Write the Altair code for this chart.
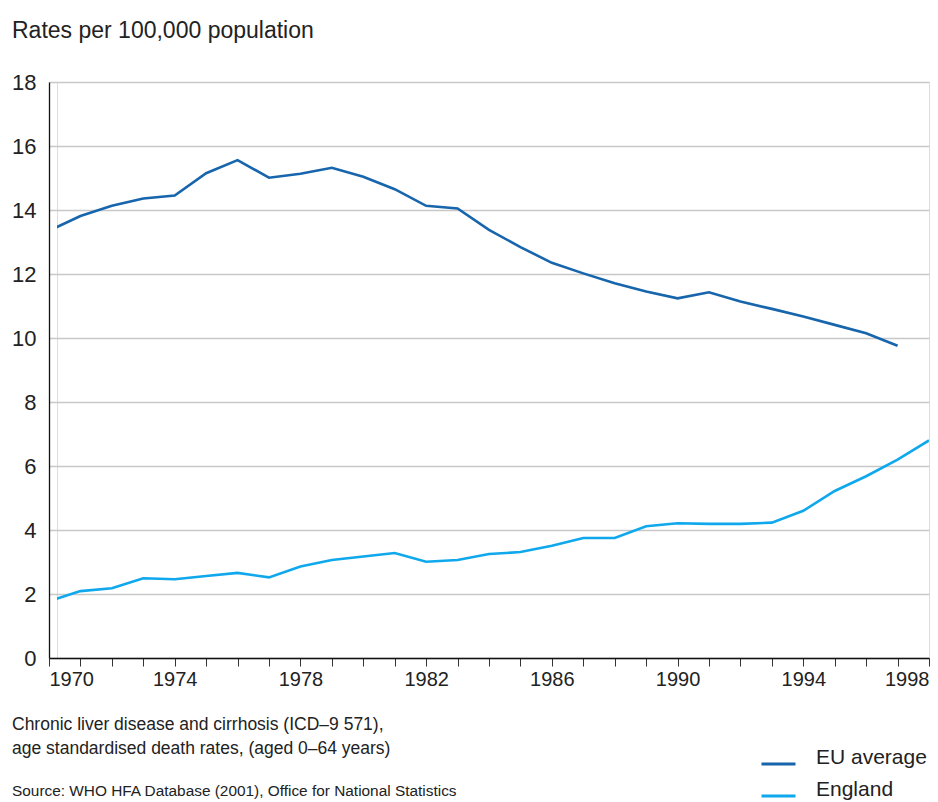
import altair as alt
import pandas as pd

years = list(range(1970, 1999))
eu_years = list(range(1970, 1998))
eu_values = [13.35, 13.81, 14.13, 14.36, 14.45, 15.15, 15.56, 15.01, 15.13, 15.32,
             15.04, 14.65, 14.13, 14.05, 13.38, 12.84, 12.35, 12.02, 11.71, 11.45,
             11.24, 11.43, 11.14, 10.91, 10.67, 10.41, 10.15, 9.76]
england_values = [1.78, 2.09, 2.18, 2.49, 2.46, 2.56, 2.66, 2.52, 2.86, 3.06,
                  3.17, 3.28, 3.01, 3.06, 3.25, 3.31, 3.51, 3.75, 3.75, 4.12,
                  4.21, 4.19, 4.19, 4.23, 4.60, 5.22, 5.68, 6.20, 6.80]
series_names = ["EU average", "England"]
series_colors = ["#1765AC", "#0FA8EC"]
y_ticks = [0, 2, 4, 6, 8, 10, 12, 14, 16, 18]
title_text = "Rates per 100,000 population"
note_line1 = "Chronic liver disease and cirrhosis (ICD\u20139 571),"
note_line2 = "age standardised death rates, (aged 0\u201364 years)"
source_text = "Source: WHO HFA Database (2001), Office for National Statistics"

rows = []
for y, v in zip(eu_years, eu_values):
    rows.append({"year": y, "value": v, "series": series_names[0]})
for y, v in zip(years, england_values):
    rows.append({"year": y, "value": v, "series": series_names[1]})
df = pd.DataFrame(rows)

W, H = 872, 576
FONT = "Liberation Sans"
TXT = "#222222"

lines = alt.Chart(df).mark_line(strokeWidth=2.6, clip=True).encode(
    x=alt.X("year:Q",
            scale=alt.Scale(domain=[1970, 1998], range=[-8, W], nice=False, zero=False),
            axis=alt.Axis(values=years, format="d",
                          labelExpr="datum.value % 4 == 2 ? datum.label : ''",
                          title=None, grid=False, domainColor="#111111", domainWidth=1.3,
                          tickColor="#333333", tickSize=8, tickWidth=1,
                          labelFontSize=20, labelColor=TXT, labelFont=FONT,
                          labelPadding=3, labelFlush=True, labelFlushOffset=0)),
    y=alt.Y("value:Q",
            scale=alt.Scale(domain=[0, 18], nice=False),
            axis=alt.Axis(values=y_ticks, title=None, offset=8, ticks=False,
                          domainColor="#111111", domainWidth=1.3,
                          grid=True, gridColor="#c8c8c8", gridWidth=1.5,
                          labelFontSize=22, labelColor=TXT, labelFont=FONT,
                          labelPadding=13)),
    color=alt.Color("series:N",
                    scale=alt.Scale(domain=series_names, range=series_colors),
                    sort=series_names,
                    legend=alt.Legend(title=None, orient="none", legendX=703, legendY=660,
                                      symbolType="M-1,0.35H1", symbolSize=1156,
                                      symbolStrokeWidth=3, symbolFillColor="transparent",
                                      labelFontSize=21, labelColor=TXT, labelFont=FONT,
                                      labelOffset=19, rowPadding=0, clipHeight=32,
                                      padding=0)),
)

def text_layer(txt, x, y, size):
    return alt.Chart(pd.DataFrame({"t": [txt]})).mark_text(
        align="left", baseline="alphabetic", fontSize=size, font=FONT, color=TXT
    ).encode(text="t:N", x=alt.value(x), y=alt.value(y))

title = text_layer(title_text, -45, -44, 23)
n1 = text_layer(note_line1, -45, 648, 17.5)
n2 = text_layer(note_line2, -45, 671.5, 17.5)
src = text_layer(source_text, -45, 714, 15.4)

top_rule = alt.Chart(pd.DataFrame({"d": [0]})).mark_rule(
    color="#333333", strokeWidth=2
).encode(x=alt.value(-45), x2=alt.value(W), y=alt.value(-75.5))

chart = alt.layer(lines, title, n1, n2, src, top_rule).properties(
    width=W, height=H,
    autosize=alt.AutoSizeParams(type="none"),
    padding={"left": 49, "top": 74, "right": 1, "bottom": 144},
).configure_view(stroke=None).configure(background="white")

chart.save("out.html", embed_options={"renderer": "svg", "actions": False})
